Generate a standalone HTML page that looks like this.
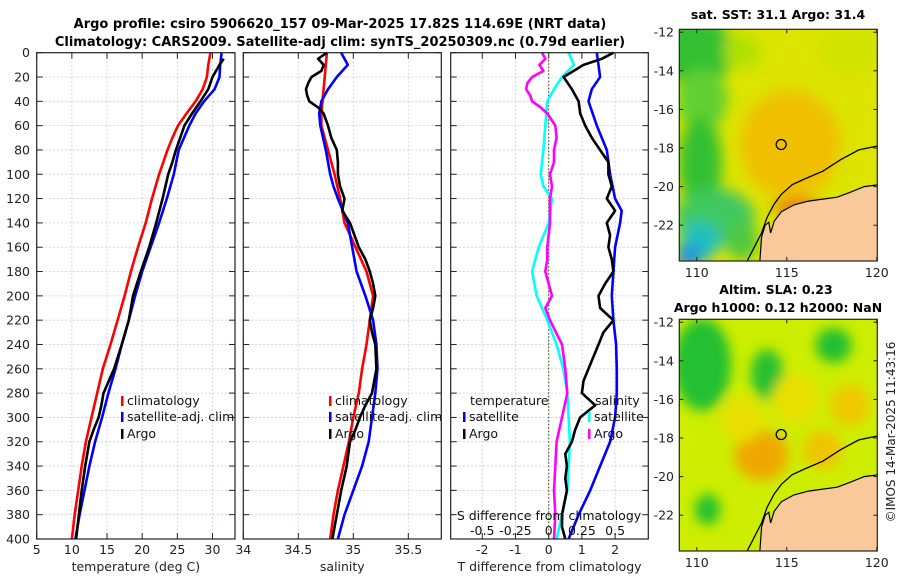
<!DOCTYPE html>
<html><head><meta charset="utf-8"><style>
body{margin:0;background:#fff}
svg{display:block;font-family:"DejaVu Sans","Liberation Sans",sans-serif}
</style></head><body>
<svg id="fig" width="900" height="580" viewBox="0 0 900 580">
<text x="340" y="28" text-anchor="middle" font-size="13" font-weight="bold">Argo profile: csiro 5906620_157 09-Mar-2025 17.82S 114.69E (NRT data)</text>
<text x="340" y="46" text-anchor="middle" font-size="13" font-weight="bold">Climatology: CARS2009. Satellite-adj clim: synTS_20250309.nc (0.79d earlier)</text>
<text x="778" y="19" text-anchor="middle" font-size="12.5" font-weight="bold">sat. SST: 31.1 Argo: 31.4</text>
<text x="776" y="294" text-anchor="middle" font-size="12.5" font-weight="bold">Altim. SLA: 0.23</text>
<text x="778" y="312" text-anchor="middle" font-size="12.5" font-weight="bold">Argo h1000: 0.12 h2000: NaN</text>
<text transform="translate(895,432) rotate(-90)" text-anchor="middle" font-size="12" fill="#222">©IMOS 14-Mar-2025 11:43:16</text>
<g id="plots"></g>
</svg>
<script>
// ---- data (depth levels in dbar) ----
const depthsClim = [0,10,20,30,40,50,60,70,80,100,120,140,160,180,200,220,240,260,280,300,320,340,360,380,400];
const tempClim   = [29.7,29.4,29.2,28.6,27.6,26.3,25.1,24.3,23.6,22.4,21.4,20.5,19.4,18.4,17.5,16.5,15.5,14.4,13.6,12.8,12.0,11.4,10.9,10.4,10.0];
const depthsSat  = [0,10,20,30,40,50,60,80,100,120,140,160,180,200,220,240,260,280,300,320,340,360,380,400];
const tempSat    = [31.3,31.1,31.0,30.3,28.8,27.6,26.7,25.2,24.5,23.5,22.4,21.2,20.0,19.0,18.1,17.1,16.2,15.2,14.3,13.3,12.5,11.8,11.1,10.5];
const depthsArgoT= [5,10,20,30,40,50,60,70,80,90,100,120,140,160,180,200,220,240,260,280,290,300,310,320,340,360,380,400];
const tempArgo   = [31.6,31.0,30.0,29.4,28.3,27.1,26.0,25.4,24.8,24.3,23.7,22.9,22.0,21.0,19.8,18.7,18.1,17.1,16.0,14.5,14.2,13.8,13.1,12.5,11.9,11.4,11.0,10.6];

const depthsSalClim = [0,20,40,50,60,80,100,120,140,160,180,200,220,240,260,280,300,320,340,360,380,400];
const salClim = [34.76,34.74,34.72,34.71,34.71,34.77,34.83,34.88,34.92,35.02,35.12,35.18,35.15,35.12,35.08,35.05,35.0,34.96,34.91,34.86,34.82,34.79];
const depthsSalSat = [0,10,20,30,40,50,60,80,100,110,120,140,160,180,200,220,240,260,280,300,320,340,360,380,400];
const salSat = [34.89,34.95,34.85,34.77,34.71,34.69,34.70,34.75,34.79,34.82,34.86,34.95,34.99,35.03,35.11,35.18,35.21,35.22,35.20,35.17,35.14,35.08,35.0,34.92,34.86];
const depthsSalArgo = [0,5,10,15,20,25,30,35,40,45,50,60,70,80,90,100,110,120,130,140,160,170,180,190,200,210,220,230,240,260,280,290,300,310,320,340,360,380,400];
const salArgo = [34.76,34.68,34.73,34.71,34.62,34.59,34.57,34.58,34.60,34.68,34.73,34.77,34.80,34.85,34.86,34.86,34.88,34.92,34.9,34.97,35.05,35.11,35.15,35.18,35.2,35.18,35.15,35.17,35.2,35.21,35.17,35.11,35.06,35.02,34.97,34.94,34.89,34.85,34.81];

const depthsDT = [0,10,20,30,40,60,80,100,120,130,140,160,180,200,220,240,260,280,300,320,340,360,380,400];
const dTsat = [1.45,1.5,1.55,1.3,1.2,1.45,1.75,1.85,2.0,2.2,2.15,2.0,1.95,1.9,1.95,2.03,2.05,2.05,2.0,1.85,1.55,1.25,0.9,0.6];
const depthsDTA = [0,5,10,20,30,40,50,60,70,80,90,100,110,120,130,140,150,160,170,180,190,200,210,220,230,240,250,260,270,280,290,300,310,320,330,340,350,360,380,390,400];
const dTargo = [1.95,1.6,1.05,0.45,0.7,0.9,0.95,1.1,1.3,1.55,1.8,1.8,1.9,1.75,2.0,1.75,1.85,1.8,1.9,1.95,1.7,1.5,1.55,1.95,1.65,1.5,1.35,1.2,1.05,1.0,1.4,0.95,0.8,0.7,0.5,0.55,0.5,0.55,0.4,0.4,0.5];
const depthsDS = [0,10,20,30,40,60,80,100,110,120,140,160,180,200,220,240,260,280,300,320,340,360,380,400];
const dSsat = [0.15,0.19,0.1,0.04,-0.01,-0.025,-0.04,-0.06,-0.04,0.025,0,-0.075,-0.125,-0.09,-0.01,0.06,0.11,0.14,0.15,0.16,0.15,0.14,0.1,0.06];
const depthsDSA = [0,5,10,15,20,25,30,35,40,45,50,60,70,80,90,100,110,120,140,160,170,180,200,210,220,240,260,280,300,320,340,360,380,400];
const dSargo = [-0.05,-0.025,-0.07,-0.04,-0.125,-0.16,-0.17,-0.14,-0.125,-0.06,-0.01,0.05,0.06,0.04,0.04,0.01,0.025,0.01,0.01,-0.01,-0.01,-0.025,0.025,-0.025,0.01,0.1,0.125,0.14,0.1,0.06,0.05,0.04,0.05,0.04];

const depthTicks = [0,20,40,60,80,100,120,140,160,180,200,220,240,260,280,300,320,340,360,380,400];
const tempTicks = [5,10,15,20,25,30];
const salTicks = [34,34.5,35,35.5];
const salTickLabels = ['34','34.5','35','35.5'];
const dTTicks = [-2,-1,0,1,2];
const dSTicks = [-0.5,-0.25,0,0.25,0.5];
const dSTickLabels = ['-0.5','-0.25','0','0.25','0.5'];
const lonTicks = [110,115,120];
const latTicks = [-12,-14,-16,-18,-20,-22];
const argoLon = 114.69, argoLat = -17.82;

const NS='http://www.w3.org/2000/svg';
const root=document.getElementById('plots');
function el(tag,attrs,parent){const e=document.createElementNS(NS,tag);for(const k in attrs)e.setAttribute(k,attrs[k]);(parent||root).appendChild(e);return e;}
const Y0=52.7,Y1=539;
const yDepth=d=>Y0+(d/400)*(Y1-Y0);
function lin(d0,d1,r0,r1){return v=>r0+(v-d0)/(d1-d0)*(r1-r0);}

function panel(name,x0,x1,xs,xTicks,xLabels,xTitle,showY){
  const g=el('g',{});
  
  
  xTicks.forEach((t,i)=>{const x=xs(t);
    const gl=el('line',{x1:x,x2:x,y1:Y0,y2:Y1,stroke:'#c4c8e4','stroke-width':0.8,'stroke-dasharray':'2,2'},g);
    
    el('line',{x1:x,x2:x,y1:Y1,y2:Y1-6,stroke:'#222'},g);el('line',{x1:x,x2:x,y1:Y0,y2:Y0+6,stroke:'#222'},g);
    if(xLabels){const tx=el('text',{x:x,y:554,'text-anchor':'middle','font-size':12.5,fill:'#222'},g);tx.textContent=xLabels[i];
      }
  });
  depthTicks.forEach(d=>{const y=yDepth(d);
    if(d>0&&d<400){const gl=el('line',{x1:x0,x2:x1,y1:y,y2:y,stroke:'#c4c8e4','stroke-width':0.8,'stroke-dasharray':'2,2'},g);
      }
    el('line',{x1:x0,x2:x0+6,y1:y,y2:y,stroke:'#222'},g);el('line',{x1:x1,x2:x1-6,y1:y,y2:y,stroke:'#222'},g);
    if(showY){const tx=el('text',{x:30,y:y+4.5,'text-anchor':'end','font-size':12.5,fill:'#222'},g);tx.textContent=d;
      }
  });
  if(xTitle){const tx=el('text',{x:(x0+x1)/2,y:571,'text-anchor':'middle','font-size':12.5,fill:'#222'},g);tx.textContent=xTitle;
    }
  return g;
}
function frame(g,x0,x1){const r=el('rect',{x:x0,y:Y0,width:x1-x0,height:Y1-Y0,fill:'none',stroke:'#222','stroke-width':1.2},g);
  }
function line(g,ds,vs,xs,color,name){
  const pts=ds.map((d,i)=>xs(vs[i]).toFixed(1)+','+yDepth(d).toFixed(1)).join(' ');
  const p=el('polyline',{points:pts,fill:'none',stroke:color,'stroke-width':2.6,'stroke-linejoin':'round'},g);
  
}
function legend(g,x,y,color,label,name){
  const m=el('rect',{x:x,y:y-9,width:2.5,height:10,fill:color},g);
  
  const t=el('text',{x:x+6,y:y,'font-size':12.5,fill:'#111'},g);t.textContent=label;
  
}

// Panel 1
const xT=lin(5,33.2,36.7,235);
const p1=panel('temperature-panel',36.7,235,xT,tempTicks,tempTicks.map(String),'temperature (deg C)',true);
line(p1,depthsClim,tempClim,xT,'#ff0000','temp-climatology-line');
line(p1,depthsSat,tempSat,xT,'#0000ff','temp-satellite-line');
line(p1,depthsArgoT,tempArgo,xT,'#000000','temp-argo-line');
legend(p1,121,405,'#ff0000','climatology','legend-climatology');
legend(p1,121,421,'#0000ff','satellite-adj. clim','legend-satellite');
legend(p1,121,438,'#000000','Argo','legend-argo');
frame(p1,36.7,235);

// Panel 2
const xS=lin(34,35.8,243.3,441.3);
const p2=panel('salinity-panel',243.3,441.3,xS,salTicks,salTickLabels,'salinity',false);
line(p2,depthsSalClim,salClim,xS,'#ff0000','sal-climatology-line');
line(p2,depthsSalSat,salSat,xS,'#0000ff','sal-satellite-line');
line(p2,depthsSalArgo,salArgo,xS,'#000000','sal-argo-line');
legend(p2,329,405,'#ff0000','climatology','legend-climatology-2');
legend(p2,329,421,'#0000ff','satellite-adj. clim','legend-satellite-2');
legend(p2,329,438,'#000000','Argo','legend-argo-2');
frame(p2,243.3,441.3);

// Panel 3
const xD=lin(-2.95,3.0,450.7,648.3);
const xDS=v=>xD(v*4);
const p3=panel('difference-panel',450.7,648.3,xD,dTTicks,dTTicks.map(String),'T difference from climatology',false);
const zl=el('line',{x1:xD(0),x2:xD(0),y1:Y0,y2:Y1,stroke:'#5a5a2a','stroke-width':1.2,'stroke-dasharray':'1.5,2'},p3);

line(p3,depthsDS,dSsat,xDS,'#00ffff','sdiff-satellite-line');
line(p3,depthsDSA,dSargo,xDS,'#ff00ff','sdiff-argo-line');
line(p3,depthsDT,dTsat,xD,'#0000ff','tdiff-satellite-line');
line(p3,depthsDTA,dTargo,xD,'#000000','tdiff-argo-line');
let t=el('text',{x:470,y:405,'font-size':12.5,fill:'#111'},p3);t.textContent='temperature';

legend(p3,463,421,'#0000ff','satellite','legend-tdiff-satellite');
legend(p3,463,438,'#000000','Argo','legend-tdiff-argo');
t=el('text',{x:595,y:405,'font-size':12.5,fill:'#111'},p3);t.textContent='salinity';

legend(p3,588,421,'#00ffff','satellite','legend-sdiff-satellite');
legend(p3,588,438,'#ff00ff','Argo','legend-sdiff-argo');
t=el('text',{x:549,y:520,'text-anchor':'middle','font-size':12.5,fill:'#111'},p3);t.textContent='S difference from climatology';

dSTicks.forEach((v,i)=>{const tx=el('text',{x:xDS(v),y:535,'text-anchor':'middle','font-size':12.5,fill:'#111'},p3);tx.textContent=dSTickLabels[i];
  });
frame(p3,450.7,648.3);

// ---- Maps ----
const MX0=679.3,MX1=877.3,MH=231.7,LON0=109.03,LAT0=-11.85;
const landPts=[[113.5,-23.9],[113.6,-22.6],[113.8,-22.0],[114.0,-21.85],[114.1,-22.4],[114.3,-21.8],[114.7,-21.3],[115.4,-20.95],[116.2,-20.75],[117.0,-20.65],[117.8,-20.55],[118.5,-20.3],[119.3,-20.0],[120.1,-19.9],[120.1,-23.9]];
const isobath=[[112.8,-23.85],[113.6,-22.4],[113.9,-21.6],[114.3,-20.9],[114.7,-20.4],[115.3,-19.9],[116,-19.6],[117,-19.2],[118,-18.6],[119,-18.1],[120,-17.9]];
const sstBlobs=[[110.0,-13.0,2.0,1.8,'#30c030'],[110.3,-15.5,1.4,1.6,'#60d030'],[110.2,-18.8,1.2,2.4,'#30c030'],[111.0,-21.6,2.2,1.5,'#40c860'],[110.2,-22.8,1.1,1.0,'#20c0c0'],[109.6,-23.6,0.8,0.6,'#2090e0'],[112.5,-22.8,0.9,1.0,'#50c840'],[115.2,-17.8,2.8,2.8,'#f0c000'],[115.6,-21.1,1.4,0.5,'#e88010'],[118.5,-13.0,1.8,1.2,'#d0e400'],[112.5,-13.0,1.0,0.9,'#b0e000']];
const slaBlobs=[[110.3,-14.2,1.6,2.4,'#20c030'],[113.9,-14.7,0.9,1.3,'#28c030'],[117.6,-13.2,1.0,0.9,'#20c030'],[110.6,-21.7,0.7,0.8,'#20c030'],[113.6,-18.9,1.5,1.3,'#f0a800'],[117,-18.6,1.1,1.0,'#f0c400'],[118.5,-16.3,1.1,1.1,'#f0c800'],[115.5,-16,1.3,1.3,'#e8e000'],[112.5,-17,1.2,1.2,'#e8e000']];
function drawMap(name,top,base,blobs,blur){
  const g=el('g',{});
  
  const px=lon=>MX0+(lon-LON0)*18, py=lat=>top+(LAT0-lat)*19.3;
  const cid=name+'-clip', fid=name+'-blur';
  const defs=el('defs',{},g);
  const cp=el('clipPath',{id:cid},defs);el('rect',{x:MX0,y:top,width:MX1-MX0,height:MH},cp);
  const f=el('filter',{id:fid,x:'-50%',y:'-50%',width:'200%',height:'200%'},defs);el('feGaussianBlur',{stdDeviation:blur},f);
  const cg=el('g',{'clip-path':'url(#'+cid+')'},g);
  el('rect',{x:MX0,y:top,width:MX1-MX0,height:MH,fill:base},cg);
  const bg=el('g',{filter:'url(#'+fid+')'},cg);
  blobs.forEach(b=>{const e=el('ellipse',{cx:px(b[0]),cy:py(b[1]),rx:b[2]*18,ry:b[3]*19.3,fill:b[4]},bg);
    });
  const land=el('polygon',{points:landPts.map(p=>px(p[0]).toFixed(1)+','+py(p[1]).toFixed(1)).join(' '),fill:'#f9c99a',stroke:'#000','stroke-width':1.2},cg);
  
  const iso=el('polyline',{points:isobath.map(p=>px(p[0]).toFixed(1)+','+py(p[1]).toFixed(1)).join(' '),fill:'none',stroke:'#000','stroke-width':1.3},cg);
  
  const c=el('circle',{cx:px(argoLon),cy:py(argoLat),r:5,fill:'none',stroke:'#000','stroke-width':1.3},g);
  
  el('rect',{x:MX0,y:top,width:MX1-MX0,height:MH,fill:'none',stroke:'#222','stroke-width':1.2},g);
  latTicks.forEach(l=>{const y=py(l);el('line',{x1:MX1,x2:MX1-4,y1:y,y2:y,stroke:'#222'},g);el('line',{x1:MX0,x2:MX0+4,y1:y,y2:y,stroke:'#222'},g);
    const tx=el('text',{x:674,y:y+4.5,'text-anchor':'end','font-size':12.5,fill:'#222'},g);tx.textContent=String(l);
    });
  lonTicks.forEach(l=>{const x=px(l);el('line',{x1:x,x2:x,y1:top,y2:top+4,stroke:'#222'},g);el('line',{x1:x,x2:x,y1:top+MH,y2:top+MH-4,stroke:'#222'},g);
    const tx=el('text',{x:x,y:top+MH+16,'text-anchor':'middle','font-size':12.5,fill:'#222'},g);tx.textContent=l;
    });
}
drawMap('sst-map',29.3,'#dce400',sstBlobs,7);
drawMap('sla-map',319.3,'#cdee00',slaBlobs,6);
</script>
</body></html>
